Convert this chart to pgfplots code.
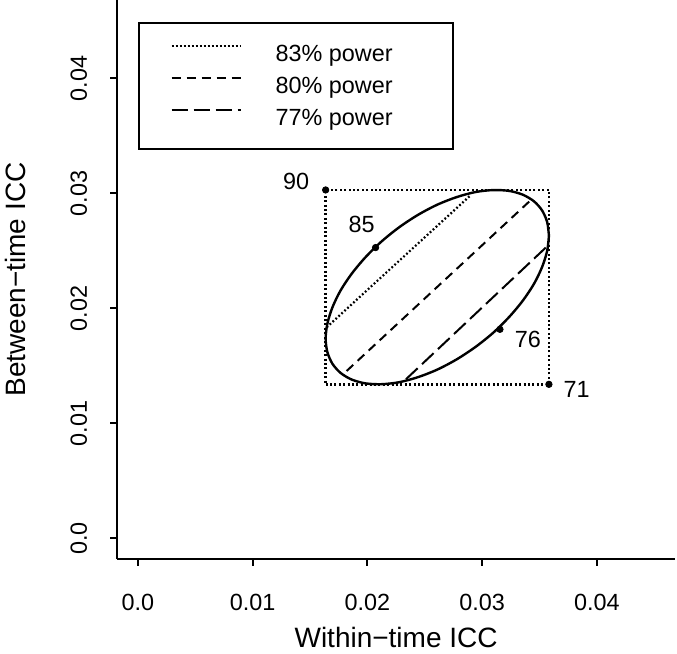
\documentclass[border=0pt]{standalone}
\usepackage{fontspec}
\setmainfont{Liberation Sans}
\usepackage{pgfplots}
\pgfplotsset{compat=1.18}

\newcommand{\ticksize}{\fontsize{11.7}{14}\selectfont}
\newcommand{\labsize}{\fontsize{14}{16.8}\selectfont}

\begin{document}
\begin{tikzpicture}
\begin{axis}[
  at={(0,0)}, anchor=south west,
  scale only axis,
  width=278.8pt, height=279.45pt,
  xmin=-0.0018, xmax=0.0468, ymin=-0.0018, ymax=0.0468,
  axis x line*=bottom, axis y line*=left,
  axis line style={line width=1pt},
  xtick={0,0.01,0.02,0.03,0.04}, xticklabels={0.0,0.01,0.02,0.03,0.04},
  ytick={0,0.01,0.02,0.03,0.04}, yticklabels={0.0,0.01,0.02,0.03,0.04},
  scaled ticks=false,
  tick align=outside, major tick length=3.5pt,
  every tick/.style={black, line width=1pt},
  xticklabel style={font=\ticksize, anchor=center, yshift=-18pt},
  yticklabel style={font=\ticksize, xshift=-15.8pt, rotate=90, anchor=center},
  xlabel={Within−time ICC},
  ylabel={Between−time ICC},
  every axis x label/.style={at={(axis description cs:0.5,0)}, yshift=-44.2pt, anchor=base, font=\labsize},
  every axis y label/.style={at={(axis description cs:0,0.5)}, xshift=-46pt, rotate=90, anchor=base, font=\labsize},
  legend style={at={(axis cs:0,0.0449)}, anchor=north west, draw=black, line width=1pt, fill=white,
    inner xsep=15.85pt, inner ysep=7.6pt, column sep=16.85pt, row sep=0pt,
    nodes={inner sep=0pt, text height=11.6pt, text depth=4.4pt, font=\ticksize}},
  legend cell align=left,
  legend image code/.code={\path (0pt,0pt) (34.5pt,4.2pt); \draw[#1] (0pt,4.2pt) -- (34.5pt,4.2pt);},
]
% power lines
\addplot[black, line width=1.1pt, dash pattern=on 0.9pt off 1.1pt] coordinates {(0.01645,0.01835) (0.02893,0.02977)};
\addlegendentry{\makebox[73pt][l]{83\% power}}
\addplot[black, line width=1pt, dash pattern=on 4.5pt off 3pt] coordinates {(0.01819,0.01455) (0.03410,0.02928)};
\addlegendentry{\makebox[73pt][l]{80\% power}}
\addplot[black, line width=1pt, dash pattern=on 8pt off 3pt] coordinates {(0.02336,0.01383) (0.03576,0.02548)};
\addlegendentry{\makebox[73pt][l]{77\% power}}

% dotted box
\addplot[forget plot, black, line width=1.4pt, dash pattern=on 1pt off 1.2pt] coordinates {
  (0.01636,0.01339) (0.03582,0.01339) (0.03582,0.03029) (0.01636,0.03029) (0.01636,0.01339)};

% ellipse
\addplot[forget plot, black, line width=1.2pt, smooth] coordinates {
(0.03582,0.02632) (0.03567,0.02749) (0.03523,0.02850) (0.03452,0.02930) (0.03354,0.02988)
(0.03234,0.03021) (0.03096,0.03028) (0.02942,0.03011) (0.02778,0.02967) (0.02609,0.02901)
(0.02440,0.02812) (0.02276,0.02704) (0.02123,0.02581) (0.01984,0.02445) (0.01864,0.02302)
(0.01766,0.02155) (0.01695,0.02008) (0.01651,0.01867) (0.01636,0.01736) (0.01651,0.01619)
(0.01695,0.01518) (0.01766,0.01438) (0.01864,0.01380) (0.01984,0.01347) (0.02123,0.01340)
(0.02276,0.01357) (0.02440,0.01401) (0.02609,0.01467) (0.02778,0.01556) (0.02942,0.01664)
(0.03096,0.01787) (0.03234,0.01923) (0.03354,0.02066) (0.03452,0.02213) (0.03523,0.02360)
(0.03567,0.02501) (0.03582,0.02632)};

% labelled points
\addplot[forget plot, only marks, mark=*, mark size=1.6pt, black,
  nodes near coords={90}, every node near coord/.style={anchor=center, xshift=-14.7pt, yshift=4.5pt, font=\ticksize}]
  coordinates {(0.01636,0.03029)};
\addplot[forget plot, only marks, mark=*, mark size=1.6pt, black,
  nodes near coords={85}, every node near coord/.style={anchor=center, xshift=-7pt, yshift=11.8pt, font=\ticksize}]
  coordinates {(0.02071,0.02528)};
\addplot[forget plot, only marks, mark=*, mark size=1.6pt, black,
  nodes near coords={76}, every node near coord/.style={anchor=center, xshift=14pt, yshift=-4.85pt, font=\ticksize}]
  coordinates {(0.03155,0.01817)};
\addplot[forget plot, only marks, mark=*, mark size=1.6pt, black,
  nodes near coords={71}, every node near coord/.style={anchor=center, xshift=13.9pt, yshift=-2.65pt, font=\ticksize}]
  coordinates {(0.03582,0.01339)};
\end{axis}
\pgfresetboundingbox
\path (-58.65pt,-47.5pt) rectangle (279.85pt,279.5pt);
\end{tikzpicture}
\end{document}
